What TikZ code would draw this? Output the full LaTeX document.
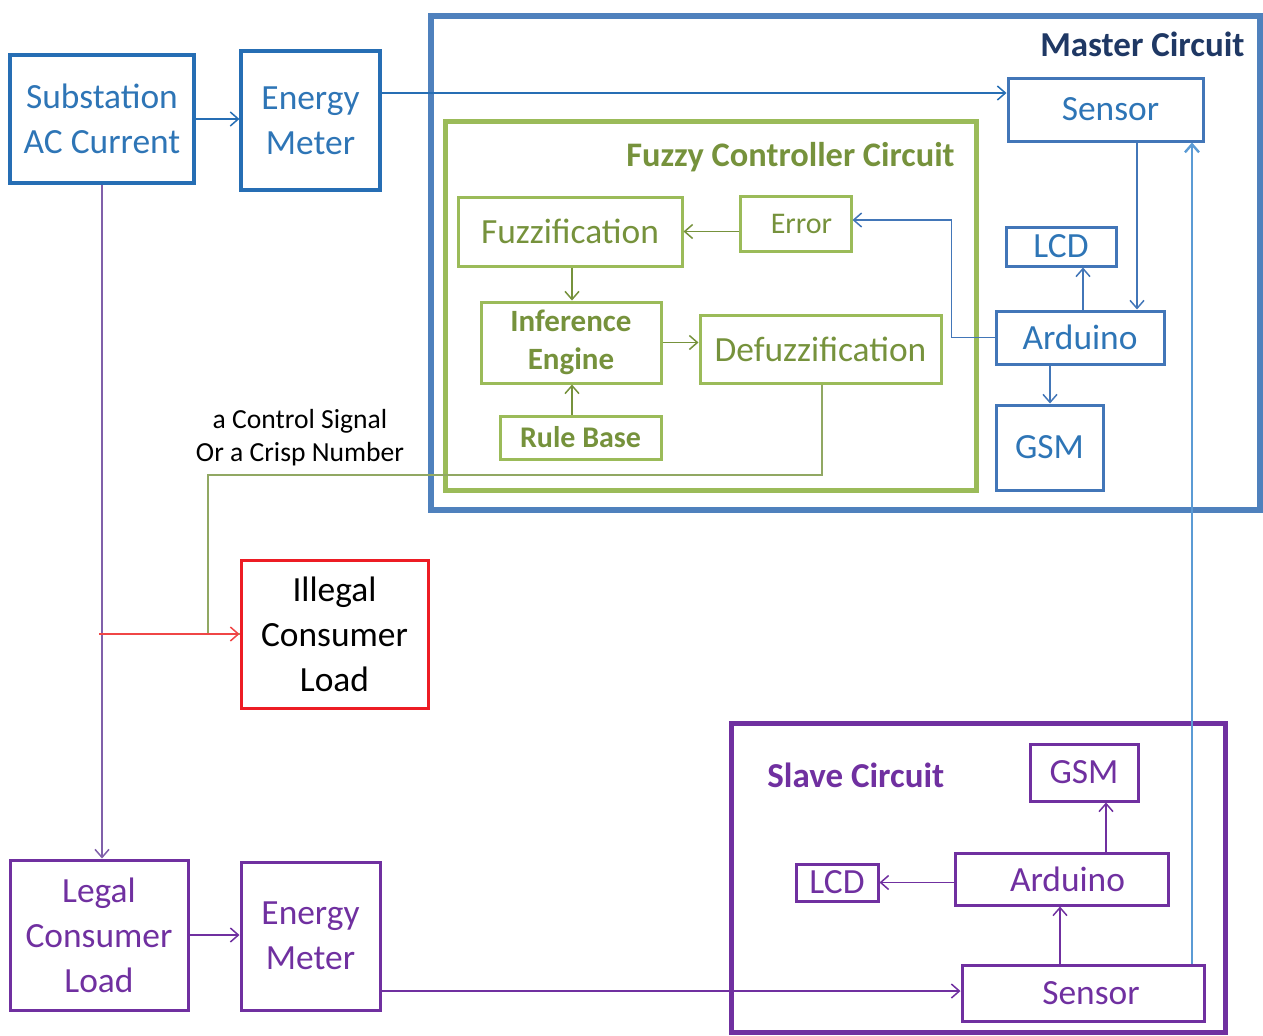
\documentclass[tikz,border=0pt]{standalone}
\usepackage{fontspec}
\setmainfont{Carlito}
\usetikzlibrary{arrows.meta}
\definecolor{bbox}{RGB}{38,110,180}
\definecolor{btext}{RGB}{46,117,182}
\definecolor{mblue}{RGB}{79,129,189}
\definecolor{mbox}{RGB}{66,118,184}
\definecolor{navy}{RGB}{31,56,100}
\definecolor{lblue}{RGB}{91,155,213}
\definecolor{gbox}{RGB}{155,187,89}
\definecolor{gtext}{RGB}{118,146,60}
\definecolor{pbox}{RGB}{112,48,160}
\definecolor{pline}{RGB}{128,96,170}
\definecolor{rbox}{RGB}{237,28,36}
\definecolor{rline}{RGB}{240,70,70}
% \bx{style}{name}{x1}{y1}{x2}{y2}{text}
\newcommand\bx[7]{\node[#1, minimum width={(#5-#3)*0.5pt}, minimum height={(#6-#4)*0.5pt}] (#2) at ({(#3+#5)/2},{(#4+#6)/2}) {#7};}
\begin{document}
\begin{tikzpicture}[x=0.5pt,y=-0.5pt,
  base/.style={draw, inner sep=0pt, align=center, font=\fontsize{17.7}{22.5}\selectfont},
  bluebox/.style={base, draw=bbox, line width=1.6pt, text=btext},
  mastbox/.style={base, draw=mbox, line width=1.5pt, text=btext},
  greenbox/.style={base, draw=gbox, line width=1.5pt, text=gtext},
  purplebox/.style={base, draw=pbox, line width=1.5pt, text=pbox},
  redbox/.style={base, draw=rbox, line width=1.5pt, text=black},
  frame/.style={draw, inner sep=0pt},
  conn/.style={line width=0.75pt, -{Straight Barb[length=4pt,width=7pt]}},
  plain/.style={line width=0.75pt},
  title/.style={font=\fontsize{17.5}{21}\selectfont\bfseries, inner sep=0pt}
]
\useasboundingbox (0,0) rectangle (1263,1035);

% frames
\bx{frame, draw=mblue, line width=3pt}{master}{431}{16}{1260}{510}{}
\bx{frame, draw=gbox, line width=2.5pt}{fuzzy}{445}{121}{976}{490}{}
\bx{frame, draw=pbox, line width=2.5pt}{slave}{731}{723}{1225}{1032}{}
\node[title, text=navy, anchor=east] (mlabel) at (1245,44) {Master Circuit};
\node[title, text=gtext, anchor=east, font=\fontsize{17.2}{20}\selectfont\bfseries] (flabel) at (955,157) {Fuzzy Controller Circuit};
\node[title, text=pbox, anchor=west] (slabel) at (767,775) {Slave Circuit};

% left column
\bx{bluebox}{sub}{10}{55}{194}{183}{Substation\\AC Current}
\bx{bluebox}{em1}{241}{51}{380}{190}{Energy\\Meter}
\bx{redbox}{illegal}{241}{560}{428}{708}{Illegal\\Consumer\\Load}
\bx{purplebox}{legal}{10}{860}{188}{1010}{Legal\\Consumer\\Load}
\bx{purplebox}{em2}{241}{862}{380}{1010}{Energy\\Meter}

% master inner
\bx{mastbox}{msensor}{1008}{78}{1203}{141}{\hspace*{5pt}Sensor}
\bx{mastbox}{mlcd}{1006}{227}{1116}{266}{LCD}
\bx{mastbox}{marduino}{996}{311}{1164}{364}{Arduino}
\bx{mastbox}{mgsm}{996}{405}{1103}{490}{GSM}

% fuzzy inner
\bx{greenbox}{fuzz}{458}{197}{682}{266}{Fuzzification}
\bx{greenbox, font=\fontsize{15}{18}\selectfont}{error}{740}{196}{851}{251}{\hspace*{6pt}Error}
\bx{greenbox, font=\fontsize{15.5}{19}\selectfont\bfseries}{inf}{481}{302}{661}{383}{Inference\\Engine}
\bx{greenbox}{defuzz}{700}{315}{941}{383}{Defuzzification}
\bx{greenbox, font=\fontsize{15}{18}\selectfont\bfseries}{rule}{500}{416}{661}{459}{Rule Base}

% slave inner
\bx{purplebox}{sgsm}{1030}{744}{1138}{801}{GSM}
\bx{purplebox}{sarduino}{955}{853}{1168}{905}{\hspace*{6pt}Arduino}
\bx{purplebox}{slcd}{796}{864}{878}{901}{LCD}
\bx{purplebox}{ssensor}{962}{965}{1204}{1021}{\hspace*{8pt}Sensor}

% label
\node[font=\fontsize{13.8}{16.5}\selectfont, align=center, inner sep=0pt] (ctl) at (300,438) {a Control Signal\\Or a Crisp Number};

% helper coordinates
\coordinate (y93) at (0,93);
\coordinate (y220) at (0,220);
\coordinate (y991) at (0,991);
\coordinate (x1192) at (1192,0);
\coordinate (x1137) at (1137,0);
\coordinate (x1083) at (1083,0);
\coordinate (x1050) at (1050,0);
\coordinate (x572) at (572,0);
\coordinate (x1106) at (1106,0);
\coordinate (x1060) at (1060,0);
\coordinate (x822) at (822,0);
\coordinate (tap) at (99,634);
\coordinate (bend1) at (208,475);

% connectors
\draw[conn, draw=bbox] (sub.east) -- (em1.west |- sub.east);
\draw[conn, draw=bbox] (em1.east |- y93) -- (msensor.west |- y93);
\draw[conn, draw=pline] (sub.south) -- (legal.north -| sub.south);
\draw[conn, draw=pbox] (legal.east) -- (em2.west |- legal.east);
\draw[conn, draw=pbox] (em2.east |- y991) -- (ssensor.west |- y991);

\draw[conn, draw=mbox] (msensor.south -| x1137) -- (marduino.north -| x1137);
\draw[conn, draw=mbox] (marduino.north -| x1083) -- (mlcd.south -| x1083);
\draw[conn, draw=mbox] (marduino.south -| x1050) -- (mgsm.north -| x1050);
\draw[conn, draw=mbox] (marduino.west) -- ++(-43,0) |- (error.east |- y220);

\draw[conn, draw=gtext] (error.west |- fuzz.east) -- (fuzz.east);
\draw[conn, draw=gtext] (fuzz.south -| x572) -- (inf.north -| x572);
\draw[conn, draw=gtext] (rule.north -| x572) -- (inf.south -| x572);
\draw[conn, draw=gtext] (inf.east) -- (defuzz.west |- inf.east);

\draw[plain, draw=gtext!80] (defuzz.south -| x822) |- (bend1) |- (illegal.west);
\draw[conn, draw=rline] (tap) -- (illegal.west);

\draw[conn, draw=pbox] (sarduino.west |- slcd.east) -- (slcd.east);
\draw[conn, draw=pbox] (sarduino.north -| x1106) -- (sgsm.south -| x1106);
\draw[conn, draw=pbox] (ssensor.north -| x1060) -- (sarduino.south -| x1060);

\draw[conn, draw=lblue, line width=1.2pt] (ssensor.north -| x1192) -- (msensor.south -| x1192);
\end{tikzpicture}
\end{document}
